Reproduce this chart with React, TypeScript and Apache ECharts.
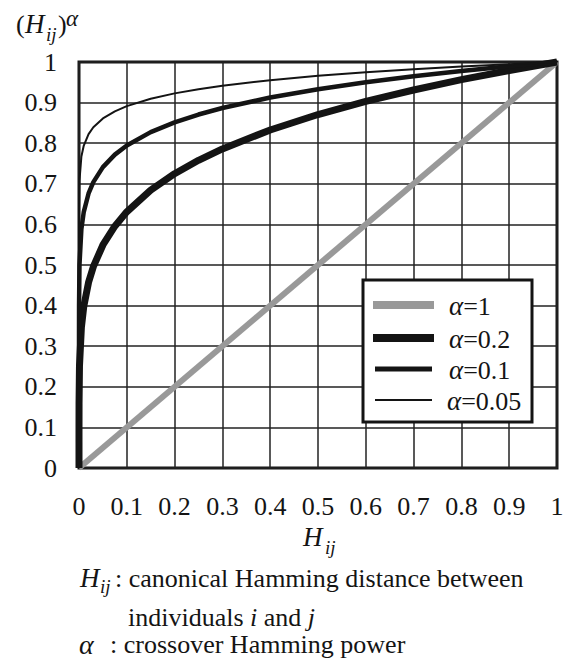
import React, { useEffect, useRef } from 'react';
import * as echarts from 'echarts';

const SERIF = 'Liberation Serif';
const INK = '#141414';

// Hamming distance sample points (x)
const H_VALUES = [0, 0.000001, 0.00001, 0.0001, 0.001, 0.005, 0.01, 0.02, 0.03, 0.05, 0.075, 0.1, 0.15, 0.2, 0.25, 0.3, 0.4, 0.5, 0.6, 0.7, 0.8, 0.9, 1];
// (H)^alpha
const ALPHA_02 = [0, 0.0631, 0.1, 0.1585, 0.2512, 0.3466, 0.3981, 0.4573, 0.4959, 0.5493, 0.5957, 0.631, 0.6843, 0.7248, 0.7579, 0.786, 0.8326, 0.8706, 0.9029, 0.9311, 0.9564, 0.9791, 1];
const ALPHA_01 = [0, 0.2512, 0.3162, 0.3981, 0.5012, 0.5887, 0.631, 0.6762, 0.7042, 0.7411, 0.7718, 0.7943, 0.8272, 0.8513, 0.8706, 0.8866, 0.9125, 0.933, 0.9502, 0.965, 0.9779, 0.9895, 1];
const ALPHA_005 = [0, 0.5012, 0.5623, 0.631, 0.7079, 0.7673, 0.7943, 0.8223, 0.8392, 0.8609, 0.8785, 0.8913, 0.9095, 0.9227, 0.933, 0.9416, 0.9552, 0.9659, 0.9748, 0.9823, 0.9889, 0.9947, 1];
const LINEAR_H = [0, 1];
const ALPHA_1 = [0, 1];

const LEGEND_LABELS = ['1', '0.2', '0.1', '0.05'];

const pairs = (xs: number[], ys: number[]) => xs.map((x, i) => [x, ys[i]]);

export default function App() {
  const ref = useRef<HTMLDivElement>(null);
  useEffect(() => {
    document.body.style.margin = '0';
    const chart = echarts.init(ref.current!, null, { renderer: 'svg' });

    const seriesDefs = [
      { name: 'α=1', data: pairs(LINEAR_H, ALPHA_1), color: '#999999', width: 6, legendWidth: 8 },
      { name: 'α=0.2', data: pairs(H_VALUES, ALPHA_02), color: INK, width: 7, legendWidth: 8 },
      { name: 'α=0.1', data: pairs(H_VALUES, ALPHA_01), color: INK, width: 4.5, legendWidth: 5 },
      { name: 'α=0.05', data: pairs(H_VALUES, ALPHA_005), color: INK, width: 2, legendWidth: 2 },
    ];

    const legendRowsY = [305, 338, 369, 400];
    const legendGraphics: any[] = [
      {
        type: 'rect',
        shape: { x: 363, y: 280, width: 169, height: 142 },
        style: { fill: '#fff', stroke: INK, lineWidth: 3 },
        z: 10,
      },
    ];
    seriesDefs.forEach((s, i) => {
      legendGraphics.push({
        type: 'line',
        shape: { x1: i === 0 || i === 1 ? 373 : 375, y1: legendRowsY[i], x2: i === 0 || i === 1 ? 434 : 432, y2: legendRowsY[i] },
        style: { stroke: s.color, lineWidth: s.legendWidth },
        z: 11,
      });
      legendGraphics.push({
        type: 'text',
        x: i === 3 ? 447 : 449,
        y: legendRowsY[i] + 1,
        style: {
          text: `{a|α}{b|=${LEGEND_LABELS[i]}}`,
          align: 'left',
          verticalAlign: 'middle',
          fill: INK,
          rich: {
            a: { fontSize: 27, fontFamily: SERIF, fontStyle: 'italic', fill: INK },
            b: { fontSize: 26, fontFamily: SERIF, fill: INK },
          },
        },
        z: 11,
      });
    });

    const txt = (x: number, y: number, text: string, size: number, italic = false) => ({
      type: 'text',
      x,
      y,
      style: {
        text,
        fontSize: size,
        fontFamily: SERIF,
        fontStyle: italic ? 'italic' : 'normal',
        fill: INK,
        align: 'left',
        verticalAlign: 'middle',
      },
      z: 12,
    });

    const labelGraphics = [
      // y-axis title (H_ij)^α
      txt(16, 24, '(', 26),
      txt(25, 24, 'H', 27, true),
      txt(46, 34, 'ij', 19, true),
      txt(58, 24, ')', 26),
      txt(66, 18, 'α', 23, true),
      // x-axis title H_ij
      txt(303, 537, 'H', 27, true),
      txt(325, 547, 'ij', 19, true),
      // notes
      txt(80, 578, 'H', 27, true),
      txt(100, 586, 'ij', 19, true),
      txt(115, 578, ': canonical Hamming distance between', 26),
      {
        type: 'text',
        x: 128,
        y: 617,
        style: {
          text: '{n|individuals }{i|i}{n| and }{i|j}',
          align: 'left',
          verticalAlign: 'middle',
          fill: INK,
          rich: {
            n: { fontSize: 26, fontFamily: SERIF, fill: INK },
            i: { fontSize: 26, fontFamily: SERIF, fontStyle: 'italic', fill: INK },
          },
        },
        z: 12,
      },
      txt(79, 644, 'α', 28, true),
      txt(110, 644, ': crossover Hamming power', 26),
    ];

    chart.setOption({
      animation: false,
      backgroundColor: '#fff',
      textStyle: { fontFamily: SERIF },
      grid: {
        left: 79,
        right: 12,
        top: 62,
        bottom: 195,
        show: true,
        borderColor: INK,
        borderWidth: 3,
        backgroundColor: 'transparent',
      },
      xAxis: {
        type: 'value',
        min: 0,
        max: 1,
        interval: 0.1,
        axisLine: { show: false },
        axisTick: { show: false },
        splitLine: { show: true, lineStyle: { color: '#222', width: 1.5 } },
        axisLabel: {
          fontSize: 26,
          fontFamily: SERIF,
          color: INK,
          margin: 38,
          verticalAlign: 'middle',
          formatter: (v: number) => String(Math.round(v * 10) / 10),
        },
      },
      yAxis: {
        type: 'value',
        min: 0,
        max: 1,
        interval: 0.1,
        axisLine: { show: false },
        axisTick: { show: false },
        splitLine: { show: true, lineStyle: { color: '#222', width: 1.5 } },
        axisLabel: {
          fontSize: 26,
          fontFamily: SERIF,
          color: INK,
          margin: 22,
          padding: [5, 0, 0, 0],
          formatter: (v: number) => String(Math.round(v * 10) / 10),
        },
      },
      series: seriesDefs.map((s) => ({
        type: 'line',
        name: s.name,
        data: s.data,
        showSymbol: false,
        symbol: 'none',
        clip: false,
        smooth: false,
        lineStyle: { color: s.color, width: s.width, join: 'round', cap: 'butt' },
        itemStyle: { color: s.color },
        emphasis: { disabled: true },
      })),
      graphic: [...legendGraphics, ...labelGraphics],
    });

    return () => chart.dispose();
  }, []);
  return <div ref={ref} style={{ width: 569, height: 663 }} />;
}
